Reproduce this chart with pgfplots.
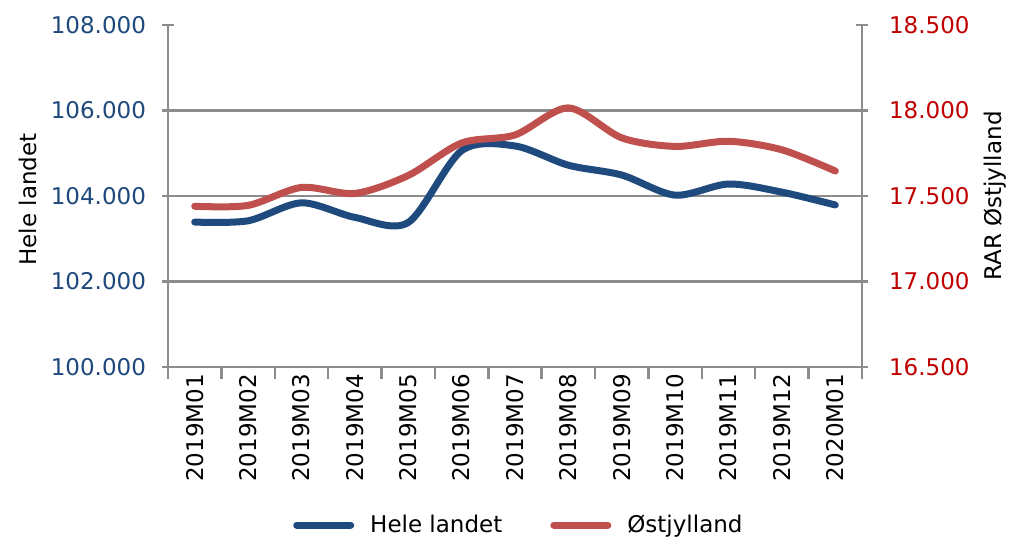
\documentclass[border=0pt]{standalone}
\usepackage{pgfplots}
\pgfplotsset{compat=1.18}
\usepackage{fontspec}
\setmainfont{DejaVu Sans}
\definecolor{blueline}{HTML}{1F4A7E}
\definecolor{redline}{HTML}{C0504D}
\definecolor{bluetxt}{HTML}{1F497D}
\definecolor{redtxt}{HTML}{C00000}
\definecolor{axgray}{HTML}{8C8C8C}
\pgfplotsset{
  common/.style={
    scale only axis, width=347pt, height=171pt,
    at={(84pt,86pt)}, anchor=south west,
    xmin=0.5, xmax=13.5,
    axis line style={axgray, line width=1.2pt},
    tick style={axgray, line width=1.2pt},
    major tick length=6pt,
    scaled y ticks=false,
    yticklabel style={/pgf/number format/fixed, /pgf/number format/fixed zerofill,
      /pgf/number format/precision=3, /pgf/number format/assume math mode=true},
  }
}
\begin{document}
\begin{tikzpicture}[font=\fontsize{11.5}{14}\selectfont]
\path[use as bounding box] (0,0) rectangle (505pt,269.5pt);
\begin{axis}[common,
  axis x line*=bottom, axis y line*=left,
  ymin=100, ymax=108, ytick={100,102,104,106,108},
  ytick align=center, xtick align=outside,
  yticklabel style={text=bluetxt, xshift=-4.5pt},
  extra y ticks={102,104,106}, extra y tick labels={},
  extra y tick style={grid=major, major grid style={axgray, line width=1.2pt}},
  xtick={0.5,1.5,...,13.5}, xticklabels={},
  extra x ticks={1,...,13},
  extra x tick labels={2019M01,2019M02,2019M03,2019M04,2019M05,2019M06,2019M07,2019M08,2019M09,2019M10,2019M11,2019M12,2020M01},
  extra x tick style={major tick length=0pt, tick style={draw=none}},
  xticklabel style={rotate=90, anchor=east, text=black},
  ylabel={Hele landet},
  ylabel style={at={(axis description cs:-0.2017,0.49)}, anchor=center, text=black},
]
\addplot[blueline, line width=3.5pt, smooth, line cap=round] coordinates {
(1,103.39) (2,103.42) (3,103.84) (4,103.50) (5,103.38) (6,105.06) (7,105.17)
(8,104.72) (9,104.49) (10,104.02) (11,104.28) (12,104.09) (13,103.79)};
\end{axis}
\begin{axis}[common,
  axis x line=none, axis y line*=right,
  ymin=16.5, ymax=18.5, ytick={16.5,17,17.5,18,18.5},
  ytick align=center,
  yticklabel style={text=redtxt, xshift=7pt},
  ylabel={RAR Østjylland},
  ylabel style={at={(axis description cs:1.1916,0.5)}, anchor=center, text=black},
  legend style={at={(axis description cs:0.507,-0.462)}, anchor=center, draw=none, fill=none,
    legend columns=2, /tikz/every even column/.append style={column sep=22pt}},
  legend image code/.code={\draw[#1, line cap=round] (0pt,0pt) -- (27pt,0pt); \path (33pt,0pt);},
]
\addlegendimage{blueline, line width=3.5pt}
\addlegendentry{Hele landet}
\addplot[redline, line width=3.5pt, smooth, line cap=round] coordinates {
(1,17.44) (2,17.445) (3,17.55) (4,17.515) (5,17.62) (6,17.81) (7,17.857)
(8,18.015) (9,17.84) (10,17.79) (11,17.82) (12,17.77) (13,17.646)};
\addlegendentry{Østjylland}
\end{axis}
\end{tikzpicture}
\end{document}
